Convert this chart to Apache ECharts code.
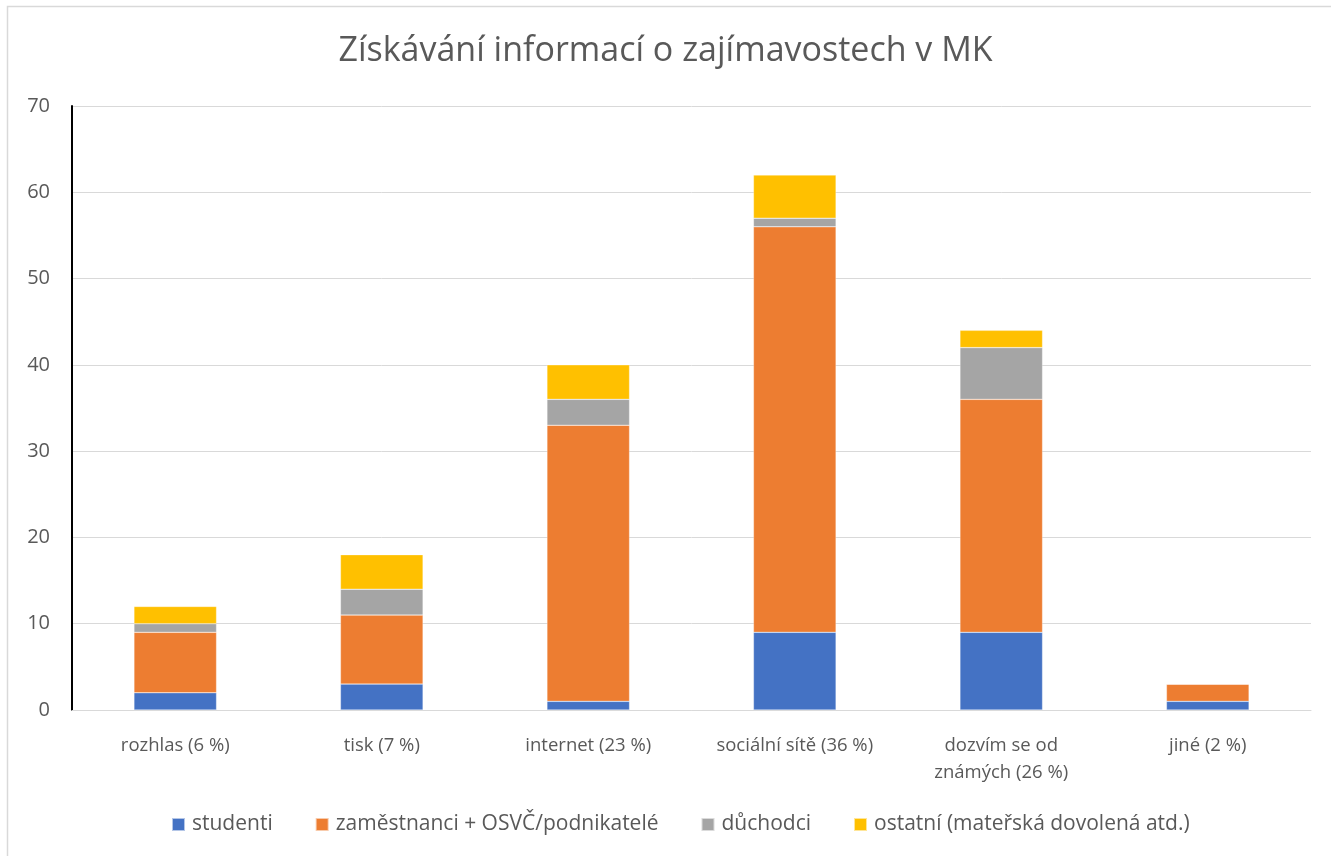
<!DOCTYPE html>
<html>
<head>
<meta charset="utf-8">
<script src="https://cdn.jsdelivr.net/npm/echarts@6/dist/echarts.min.js"></script>
<style>
html,body{margin:0;padding:0;background:#fff;}
#c{width:1331px;height:856px;}
</style>
</head>
<body>
<div id="c"></div>
<script>
const categories = ['rozhlas (6 %)', 'tisk (7 %)', 'internet (23 %)', 'sociální sítě (36 %)', 'dozvím se od\nznámých (26 %)', 'jiné (2 %)'];
const studenti = [2, 3, 1, 9, 9, 1];
const zamestnanci = [7, 8, 32, 47, 27, 2];
const duchodci = [1, 3, 3, 1, 6, 0];
const ostatni = [2, 4, 4, 5, 2, 0];
const seriesNames = ['studenti', 'zaměstnanci + OSVČ/podnikatelé', 'důchodci', 'ostatní (mateřská dovolená atd.)'];
const colors = ['#4472C4', '#ED7D31', '#A5A5A5', '#FFC000'];

const font = '"Open Sans", "Noto Sans", sans-serif';
const chart = echarts.init(document.getElementById('c'), null, {renderer: 'canvas'});
const dataSets = [studenti, zamestnanci, duchodci, ostatni];
chart.setOption({
  animation: false,
  title: {
    text: 'Získávání informací o zajímavostech v MK',
    left: 'center', top: 29,
    textStyle: {color: '#595959', fontSize: 34, fontWeight: 'normal', fontFamily: font}
  },
  graphic: [{
    type: 'rect', shape: {x: 7.5, y: 6.5, width: 1330, height: 860},
    style: {fill: 'none', stroke: '#d9d9d9', lineWidth: 1.5}, silent: true
  }],
  legend: {
    bottom: 16, left: 166,
    itemWidth: 13, itemHeight: 13, itemGap: 42,
    icon: 'rect',
    textStyle: {color: '#595959', fontSize: 21, fontFamily: font, padding: [0, 0, 0, 2]},
    data: seriesNames
  },
  grid: {left: 72, right: 20, top: 106, bottom: 146, containLabel: false},
  xAxis: {
    type: 'category', data: categories,
    axisLine: {lineStyle: {color: '#d9d9d9', width: 1}},
    axisTick: {show: false},
    axisLabel: {color: '#595959', fontSize: 18.5, fontFamily: font, margin: 22, lineHeight: 27}
  },
  yAxis: {
    type: 'value', min: 0, max: 70, interval: 10,
    axisLine: {show: true, lineStyle: {color: '#000', width: 2}},
    axisTick: {show: false},
    splitLine: {lineStyle: {color: '#d9d9d9', width: 1}},
    axisLabel: {color: '#595959', fontSize: 20, fontFamily: font, margin: 22}
  },
  series: dataSets.map((d, i) => ({
    name: seriesNames[i], type: 'bar', stack: 'total', data: d,
    barWidth: '40%',
    itemStyle: {color: colors[i], borderColor: 'rgba(255,255,255,0.6)', borderWidth: 0.5}
  }))
});
</script>
</body>
</html>
